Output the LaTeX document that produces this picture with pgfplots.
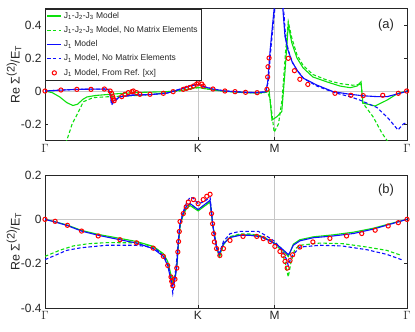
\documentclass[border=0pt]{standalone}
\usepackage{fontspec}
\setmainfont{Liberation Sans}
\usepackage{pgfplots}
\pgfplotsset{compat=1.18}
\definecolor{mgreen}{rgb}{0.05,0.88,0.05}
\definecolor{mblue}{rgb}{0.05,0.05,1}
\definecolor{mred}{rgb}{1,0,0}
\definecolor{axgray}{rgb}{0.15,0.15,0.15}
\pgfplotsset{
  myax/.style={
    scale only axis, width=362bp,
    xmin=0, xmax=1,
    xtick={0,0.4226,0.634,1}, xticklabels={$\Gamma$,K,M,$\Gamma$},
    xmajorgrids, grid style={gray!45, line width=0.5pt},
    extra y ticks={0}, extra y tick labels={}, extra y tick style={grid=major},
    tick align=inside, major tick length=3bp,
    axis line style={axgray, line width=0.6pt},
    tick style={axgray, line width=0.5pt},
    ticklabel style={font=\fontsize{12}{14}\selectfont, text=axgray},
    /pgf/number format/assume math mode=true,
    ylabel={Re Σ\raisebox{0.75ex}{\fontsize{11}{11}\selectfont (2)}/E\textsubscript{T}},
    ylabel style={at={(axis description cs:-0.0704,0.5)}, anchor=base, font=\fontsize{12.5}{14}\selectfont, text=axgray},
    legend image code/.code={\draw[mark repeat=2,mark phase=2,##1] plot coordinates {(0cm,0cm) (0.25cm,0cm) (0.5cm,0cm)};},
  },
  gs/.style={mgreen, line width=1.1bp, no markers},
  gd/.style={mgreen, line width=1.1bp, no markers, dash pattern=on 3.5bp off 2.2bp},
  bs/.style={mblue, line width=1.1bp, no markers},
  bd/.style={mblue, line width=1.1bp, no markers, dash pattern=on 3.5bp off 2.2bp},
  rc/.style={mred, only marks, mark=o, mark size=2.1bp, line width=1bp},
}
\begin{document}
\begin{tikzpicture}
\useasboundingbox (0,0) rectangle (415bp,332bp);
% ---------------- panel (a)
\begin{axis}[myax, height=132bp, at={(45bp,191.5bp)}, anchor=south west,
  ymin=-0.3, ymax=0.5, ytick={-0.2,0,0.2,0.4},
  legend style={at={(0,1)}, anchor=north west, font=\fontsize{8.5}{9.5}\selectfont,
    draw=axgray, fill=white, inner sep=1.5bp, row sep=2.6bp, text=axgray},
  legend cell align=left]
\addplot[gs] coordinates {(0,0) (0.02,-0.01) (0.04,-0.035) (0.06,-0.07) (0.077,-0.088) (0.09,-0.08) (0.105,-0.05) (0.116,-0.036) (0.14,-0.027) (0.18,-0.02) (0.215,-0.014) (0.27,-0.008) (0.337,-0.004) (0.38,0.005) (0.41,0.018) (0.423,0.022) (0.44,0.015) (0.47,0.005) (0.5,-0.002) (0.54,-0.008) (0.585,-0.012) (0.61,-0.008) (0.619,0.005) (0.627,-0.176) (0.641,-0.155) (0.654,-0.125) (0.663,0.117) (0.672,0.40) (0.682,0.29) (0.696,0.2) (0.713,0.14) (0.74,0.085) (0.779,0.055) (0.815,0.03) (0.843,0.02) (0.862,0.03) (0.873,0.056) (0.878,-0.073) (0.912,-0.091) (0.945,-0.055) (0.975,-0.014) (1,0)};
\addlegendentry{J\textsubscript{1}-J\textsubscript{2}-J\textsubscript{3} Model}
\addplot[gd] coordinates {(0,-0.75) (0.03,-0.5) (0.06,-0.3) (0.075,-0.2) (0.088,-0.145) (0.106,-0.065) (0.133,-0.04) (0.18,-0.034) (0.25,-0.028) (0.3,-0.02) (0.337,-0.01) (0.37,0.0) (0.4,0.012) (0.423,0.02) (0.45,0.012) (0.5,-0.003) (0.55,-0.01) (0.6,-0.012) (0.615,-0.005) (0.622,-0.05) (0.633,-0.25) (0.645,-0.2) (0.655,-0.05) (0.665,0.25) (0.672,0.42) (0.682,0.32) (0.696,0.22) (0.713,0.155) (0.74,0.1) (0.78,0.065) (0.815,0.045) (0.85,0.035) (0.87,0.04) (0.873,0.05) (0.878,-0.073) (0.906,-0.155) (0.931,-0.256) (0.945,-0.3) (0.97,-0.45) (1,-0.6)};
\addlegendentry{J\textsubscript{1}-J\textsubscript{2}-J\textsubscript{3} Model, No Matrix Elements}
\addplot[bs] coordinates {(0,0) (0.04,0.005) (0.088,0.01) (0.127,0.011) (0.164,0.012) (0.175,0.01) (0.18,-0.02) (0.184,-0.07) (0.19,-0.06) (0.207,-0.034) (0.243,-0.024) (0.29,-0.022) (0.337,-0.013) (0.365,0.005) (0.4,0.03) (0.423,0.04) (0.44,0.025) (0.464,0.012) (0.497,0.0) (0.525,-0.004) (0.554,-0.008) (0.586,-0.01) (0.61,-0.005) (0.615,0.05) (0.622,0.25) (0.633,0.5) (0.638,1.0) (0.65,1.0) (0.657,0.5) (0.663,0.33) (0.671,0.25) (0.682,0.18) (0.696,0.127) (0.713,0.078) (0.751,0.036) (0.796,-0.004) (0.843,-0.02) (0.879,-0.029) (0.917,-0.034) (0.945,-0.034) (0.981,-0.014) (1,0)};
\addlegendentry{J\textsubscript{1} Model}
\addplot[bd] coordinates {(0,0) (0.04,0.005) (0.088,0.01) (0.127,0.011) (0.164,0.012) (0.175,0.01) (0.18,-0.025) (0.184,-0.085) (0.19,-0.065) (0.207,-0.036) (0.243,-0.026) (0.29,-0.022) (0.337,-0.012) (0.365,0.006) (0.4,0.032) (0.423,0.042) (0.44,0.026) (0.464,0.012) (0.497,0.0) (0.525,-0.004) (0.554,-0.008) (0.586,-0.01) (0.61,-0.004) (0.617,0.06) (0.624,0.26) (0.635,0.5) (0.64,1.0) (0.652,1.0) (0.659,0.5) (0.665,0.32) (0.673,0.24) (0.684,0.17) (0.698,0.12) (0.715,0.075) (0.751,0.03) (0.8,-0.01) (0.843,-0.035) (0.87,-0.055) (0.917,-0.1) (0.948,-0.165) (0.975,-0.236) (0.99,-0.2) (1,-0.19)};
\addlegendentry{J\textsubscript{1} Model, No Matrix Elements}
\addplot[rc] coordinates {(0,0) (0.044,0.006) (0.088,0.01) (0.127,0.01) (0.164,0.012) (0.18,0) (0.184,-0.014) (0.187,-0.034) (0.189,-0.048) (0.191,-0.059) (0.212,-0.034) (0.221,-0.02) (0.230,-0.01) (0.240,-0.004) (0.244,0) (0.253,-0.01) (0.262,-0.02) (0.290,-0.02) (0.327,-0.014) (0.354,-0.004) (0.382,0.01) (0.391,0.016) (0.401,0.022) (0.410,0.03) (0.419,0.042) (0.423,0.05) (0.433,0.042) (0.437,0.03) (0.464,0.012) (0.497,0) (0.525,-0.004) (0.554,-0.008) (0.586,-0.01) (0.613,0.01) (0.615,0.085) (0.616,0.147) (0.619,0.2) (0.672,0.198) (0.689,0.123) (0.704,0.071) (0.726,0.04) (0.801,-0.014) (0.845,-0.026) (0.879,-0.028) (0.933,-0.026) (0.976,-0.014) (0.999,0)};
\addlegendentry{J\textsubscript{1} Model, From Ref. [xx]}
\node[font=\fontsize{13}{15}\selectfont, text=axgray] at (axis cs:0.942,0.4) {(a)};
\end{axis}
% ---------------- panel (b)
\begin{axis}[myax, height=133bp, at={(45bp,24bp)}, anchor=south west,
  ymin=-0.4, ymax=0.2, ytick={-0.4,-0.2,0,0.2}]
\addplot[gs] coordinates {(0,0) (0.028,-0.011) (0.06,-0.025) (0.101,-0.05) (0.147,-0.068) (0.207,-0.086) (0.253,-0.1) (0.299,-0.122) (0.327,-0.155) (0.339,-0.19) (0.348,-0.25) (0.354,-0.28) (0.36,-0.255) (0.365,-0.2) (0.369,-0.1) (0.374,-0.02) (0.382,0.02) (0.391,0.05) (0.401,0.062) (0.423,0.038) (0.456,0.078) (0.46,0.025) (0.463,-0.02) (0.468,-0.07) (0.475,-0.13) (0.482,-0.168) (0.493,-0.11) (0.511,-0.08) (0.539,-0.07) (0.566,-0.07) (0.594,-0.076) (0.612,-0.088) (0.635,-0.108) (0.649,-0.125) (0.663,-0.15) (0.672,-0.168) (0.677,-0.15) (0.686,-0.112) (0.704,-0.092) (0.741,-0.079) (0.796,-0.07) (0.852,-0.058) (0.907,-0.04) (0.962,-0.016) (1,0)};
\addplot[gd] coordinates {(0,-0.167) (0.04,-0.14) (0.078,-0.12) (0.12,-0.11) (0.17,-0.105) (0.25,-0.106) (0.281,-0.115) (0.309,-0.135) (0.331,-0.172) (0.343,-0.23) (0.352,-0.29) (0.358,-0.26) (0.364,-0.2) (0.369,-0.1) (0.374,-0.02) (0.382,0.025) (0.391,0.055) (0.401,0.068) (0.423,0.042) (0.456,0.083) (0.46,0.025) (0.464,-0.03) (0.469,-0.08) (0.476,-0.14) (0.482,-0.17) (0.493,-0.115) (0.511,-0.078) (0.539,-0.066) (0.566,-0.066) (0.594,-0.074) (0.612,-0.086) (0.635,-0.11) (0.652,-0.14) (0.663,-0.19) (0.672,-0.26) (0.68,-0.19) (0.69,-0.135) (0.704,-0.117) (0.76,-0.107) (0.824,-0.11) (0.889,-0.125) (0.944,-0.14) (0.985,-0.163)};
\addplot[bs] coordinates {(0,0) (0.028,-0.012) (0.06,-0.027) (0.101,-0.053) (0.147,-0.072) (0.207,-0.092) (0.253,-0.107) (0.299,-0.132) (0.327,-0.167) (0.339,-0.208) (0.348,-0.275) (0.353,-0.3) (0.359,-0.27) (0.364,-0.215) (0.368,-0.11) (0.373,-0.02) (0.382,0.03) (0.391,0.06) (0.401,0.071) (0.423,0.044) (0.456,0.086) (0.460,0.03) (0.463,-0.02) (0.467,-0.065) (0.474,-0.125) (0.481,-0.16) (0.493,-0.11) (0.511,-0.082) (0.539,-0.072) (0.566,-0.072) (0.594,-0.078) (0.612,-0.09) (0.635,-0.11) (0.649,-0.125) (0.663,-0.145) (0.672,-0.16) (0.676,-0.15) (0.686,-0.117) (0.704,-0.097) (0.741,-0.083) (0.796,-0.075) (0.852,-0.064) (0.907,-0.044) (0.962,-0.018) (1,0)};
\addplot[bd] coordinates {(0,-0.182) (0.06,-0.14) (0.1,-0.128) (0.17,-0.117) (0.25,-0.117) (0.28,-0.122) (0.309,-0.138) (0.331,-0.17) (0.342,-0.22) (0.35,-0.3) (0.353,-0.333) (0.359,-0.26) (0.364,-0.18) (0.368,-0.1) (0.373,-0.02) (0.382,0.035) (0.391,0.075) (0.401,0.1) (0.41,0.095) (0.423,0.07) (0.44,0.08) (0.456,0.1) (0.46,0.03) (0.467,-0.07) (0.474,-0.13) (0.481,-0.155) (0.493,-0.1) (0.511,-0.065) (0.539,-0.054) (0.589,-0.054) (0.612,-0.075) (0.635,-0.1) (0.655,-0.14) (0.667,-0.18) (0.672,-0.208) (0.68,-0.17) (0.704,-0.125) (0.76,-0.117) (0.82,-0.12) (0.889,-0.137) (0.944,-0.158) (0.985,-0.182)};
\addplot[rc] coordinates {(0,0) (0.028,-0.009) (0.062,-0.027) (0.101,-0.053) (0.147,-0.075) (0.207,-0.092) (0.253,-0.106) (0.299,-0.13) (0.327,-0.167) (0.339,-0.208) (0.348,-0.26) (0.350,-0.28) (0.353,-0.30) (0.359,-0.27) (0.364,-0.22) (0.367,-0.147) (0.369,-0.1) (0.371,-0.055) (0.373,-0.01) (0.382,0.026) (0.390,0.056) (0.396,0.078) (0.410,0.089) (0.423,0.071) (0.437,0.089) (0.447,0.104) (0.456,0.113) (0.460,0.026) (0.463,-0.02) (0.466,-0.065) (0.468,-0.102) (0.474,-0.132) (0.483,-0.163) (0.493,-0.132) (0.511,-0.095) (0.547,-0.077) (0.585,-0.077) (0.603,-0.087) (0.622,-0.1) (0.635,-0.122) (0.649,-0.145) (0.658,-0.163) (0.663,-0.19) (0.669,-0.22) (0.677,-0.186) (0.684,-0.16) (0.704,-0.125) (0.740,-0.102) (0.787,-0.086) (0.833,-0.075) (0.875,-0.064) (0.912,-0.049) (0.948,-0.03) (0.976,-0.015) (1,0)};
\node[font=\fontsize{13}{15}\selectfont, text=axgray] at (axis cs:0.942,0.133) {(b)};
\end{axis}
\end{tikzpicture}
\end{document}
